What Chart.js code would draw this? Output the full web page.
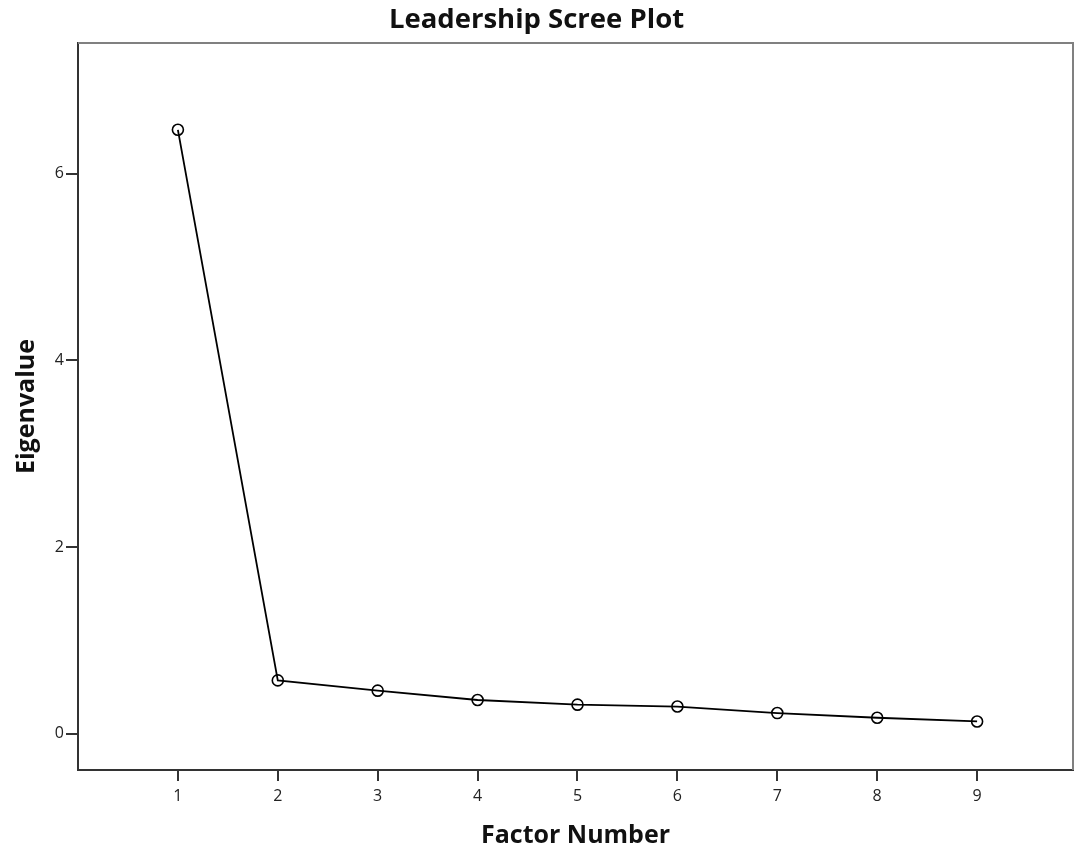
<!DOCTYPE html>
<html>
<head>
<meta charset="utf-8">
<script src="https://cdn.jsdelivr.net/npm/chart.js@4"></script>
<style>
  html, body { margin: 0; padding: 0; background: #fff; overflow: hidden; }
  #wrap { width: 1074px; height: 854px; }
</style>
</head>
<body>
<div id="wrap"><canvas id="myChart"></canvas></div>
<script>
// factor numbers and their eigenvalues
const factors = [1, 2, 3, 4, 5, 6, 7, 8, 9];
const eigenvalues = [6.47, 0.57, 0.46, 0.36, 0.31, 0.29, 0.22, 0.17, 0.13];
const yTicks = [0, 2, 4, 6];
const xTicks = [1, 2, 3, 4, 5, 6, 7, 8, 9];

const fontFamily = "'Open Sans', 'DejaVu Sans', sans-serif";

// gray top and right frame lines
const frame = {
  id: "frame",
  afterDraw(chart) {
    const { ctx, chartArea: a } = chart;
    ctx.save();
    ctx.strokeStyle = "#808080";
    ctx.lineWidth = 2;
    ctx.beginPath();
    ctx.moveTo(a.left, a.top);
    ctx.lineTo(a.right, a.top);
    ctx.lineTo(a.right, a.bottom);
    ctx.stroke();
    ctx.restore();
  },
};

const ctx = document.getElementById("myChart");
let mychart = new Chart(ctx, {
  type: "line",
  data: {
    datasets: [
      {
        label: "Eigenvalue",
        data: factors.map((f, i) => ({ x: f, y: eigenvalues[i] })),
        borderColor: "#000",
        borderWidth: 1.8,
        pointRadius: 5.5,
        pointBorderWidth: 1.6,
        pointBackgroundColor: "rgba(255,255,255,0)",
        pointBorderColor: "#000",
        tension: 0,
      },
    ],
  },
  options: {
    responsive: true,
    maintainAspectRatio: false,
    animation: false,
    layout: { autoPadding: false, padding: { right: 1, bottom: 0 } },
    scales: {
      x: {
        type: "linear",
        min: 0,
        max: 9.96,
        afterBuildTicks: (axis) => {
          axis.ticks = xTicks.map((v) => ({ value: v }));
        },
        afterFit: (axis) => {
          axis.height = 84;
          axis.paddingLeft = 0;
          axis.paddingRight = 0;
        },
        ticks: {
          color: "#222",
          font: { family: fontFamily, size: 16 },
          padding: 6,
        },
        grid: {
          drawOnChartArea: false,
          color: "#333",
          lineWidth: 2,
          tickLength: 11,
        },
        border: { color: "#333", width: 2 },
        title: {
          display: true,
          text: "Factor Number",
          color: "#111",
          font: { family: fontFamily, size: 25, weight: "bold" },
          padding: { top: 0, bottom: 3 },
        },
      },
      y: {
        min: -0.39,
        max: 7.4,
        afterBuildTicks: (axis) => {
          axis.ticks = yTicks.map((v) => ({ value: v }));
        },
        afterFit: (axis) => {
          axis.width = 78;
        },
        ticks: {
          color: "#222",
          font: { family: fontFamily, size: 16 },
          padding: 2,
        },
        grid: {
          drawOnChartArea: false,
          color: "#333",
          lineWidth: 2,
          tickLength: 12,
        },
        border: { color: "#333", width: 2 },
        title: {
          display: true,
          text: "Eigenvalue",
          color: "#111",
          font: { family: fontFamily, size: 25, weight: "bold" },
          padding: { top: 12, bottom: 0 },
        },
      },
    },
    plugins: {
      legend: { display: false },
      tooltip: { enabled: false },
      title: {
        display: true,
        text: "Leadership Scree Plot",
        color: "#111",
        font: { family: fontFamily, size: 27.5, weight: "bold", lineHeight: 1.2 },
        padding: { top: 4, bottom: 6 },
      },
    },
  },
  plugins: [frame],
});
</script>
</body>
</html>
